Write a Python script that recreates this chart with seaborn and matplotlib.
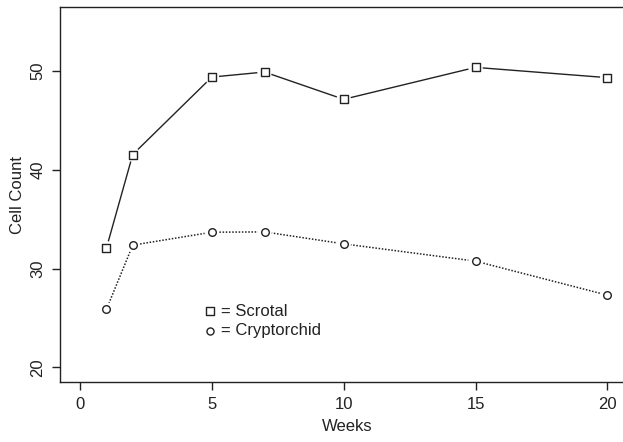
import matplotlib
matplotlib.use("Agg")
import matplotlib.pyplot as plt
import seaborn as sns
import pandas as pd

weeks = [1, 2, 5, 7, 10, 15, 20]
scrotal = [32.05, 41.54, 49.38, 49.89, 47.13, 50.36, 49.32]
cryptorchid = [25.86, 32.37, 33.68, 33.71, 32.50, 30.75, 27.31]
x_ticks = [0, 5, 10, 15, 20]
y_ticks = [20, 30, 40, 50]
legend_labels = ["= Scrotal", "= Cryptorchid"]

sns.set_style("white")
plt.rcParams["font.family"] = ["Liberation Sans", "DejaVu Sans"]

df = pd.DataFrame({"Weeks": weeks, "Scrotal": scrotal, "Cryptorchid": cryptorchid})

fig = plt.figure(figsize=(6.23, 4.42), dpi=100)
ax = fig.add_axes([60 / 623, 60 / 442, (633.7 - 60) / 623, (382 - 7.3) / 442])

ink = "#222222"
# lines
sns.lineplot(data=df, x="Weeks", y="Scrotal", ax=ax, color=ink, lw=1.0,
             linestyle="-", zorder=2)
sns.lineplot(data=df, x="Weeks", y="Cryptorchid", ax=ax, color=ink, lw=1.1,
             linestyle=(0, (1, 1.1)), zorder=2)
# gaps around points (type = "b")
for col in ["Scrotal", "Cryptorchid"]:
    sns.scatterplot(data=df, x="Weeks", y=col, ax=ax, s=110, marker="o",
                    color="white", edgecolor="none", linewidth=0, zorder=3)
# markers
sns.scatterplot(data=df, x="Weeks", y="Scrotal", ax=ax, s=30, marker="s",
                facecolor="white", edgecolor=ink, linewidth=1.0, zorder=4)
sns.scatterplot(data=df, x="Weeks", y="Cryptorchid", ax=ax, s=30, marker="o",
                facecolor="white", edgecolor=ink, linewidth=1.0, zorder=4)

# legend (R style text legend)
ax.scatter([4.93], [25.7], s=26, marker="s", facecolor="white", edgecolor=ink, linewidth=1.0, zorder=4)
ax.scatter([4.93], [23.7], s=26, marker="o", facecolor="white", edgecolor=ink, linewidth=1.0, zorder=4)
ax.text(5.33, 25.7, legend_labels[0], va="center", ha="left", fontsize=12, color=ink)
ax.text(5.33, 23.7, legend_labels[1], va="center", ha="left", fontsize=12, color=ink)

ax.set_xlim(-20 / 26.365, 21.0)
ax.set_ylim(18.52, 56.44)
ax.set_xticks(x_ticks)
ax.set_yticks(y_ticks)
ax.set_xticklabels([str(t) for t in x_ticks], fontsize=12, color=ink)
ax.set_yticklabels([str(t) for t in y_ticks], fontsize=12, color=ink,
                   rotation=90, va="center")
ax.tick_params(axis="both", direction="out", length=5.5, width=1.0, color=ink,
               bottom=True, left=True, pad=5)
ax.set_xlabel("Weeks", fontsize=12, color=ink, labelpad=5)
ax.set_ylabel("Cell Count", fontsize=12, color=ink, labelpad=4)
for sp in ax.spines.values():
    sp.set_visible(True)
    sp.set_color(ink)
    sp.set_linewidth(1.0)
ax.grid(False)
ax.set_facecolor("white")

fig.savefig("out.png", dpi=100)
